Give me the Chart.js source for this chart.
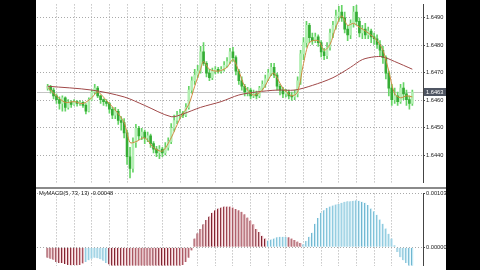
<!DOCTYPE html>
<html>
<head>
<meta charset="utf-8">
<script src="https://cdn.jsdelivr.net/npm/chart.js@4.4.1/dist/chart.umd.min.js"></script>
<style>
html, body { margin: 0; padding: 0; background: #000; width: 480px; height: 270px; overflow: hidden; }
#sheet { position: absolute; left: 36px; top: 0; width: 410px; height: 270px; background: #fff; }
#priceBox { position: absolute; left: 37px; top: 0; width: 409px; height: 187px; }
#sep { position: absolute; left: 36px; top: 187px; width: 410px; height: 2px; background: #8a8a8a; }
#macdBox { position: absolute; left: 37px; top: 189px; width: 409px; height: 81px; }
#macdLabel { position: absolute; left: 39px; top: 190px; font: 5.7px "Liberation Sans"; color: #222; white-space: nowrap; }
</style>
</head>
<body>
<div id="sheet"></div>
<div id="priceBox"><canvas id="priceChart" width="409" height="187"></canvas></div>
<div id="sep"></div>
<div id="macdBox"><canvas id="macdChart" width="409" height="81"></canvas></div>
<div id="macdLabel">MyMACD(5, 73, 13) -0.00048</div>
<script>
// candles, one per bar, left to right
var opens = [
    1.64644, 1.64651, 1.64637, 1.64616, 1.64602, 1.64588, 1.64609, 1.64574, 1.64592, 1.64585,
    1.64595, 1.64588, 1.64592, 1.64581, 1.64560, 1.64602, 1.64630, 1.64644, 1.64616, 1.64602,
    1.64595, 1.64588, 1.64567, 1.64546, 1.64560, 1.64526, 1.64519, 1.64481, 1.64394, 1.64352,
    1.64446, 1.64498, 1.64470, 1.64484, 1.64463, 1.64470, 1.64442, 1.64422, 1.64408, 1.64422,
    1.64408, 1.64428, 1.64449, 1.64498, 1.64526, 1.64546, 1.64553, 1.64546, 1.64574, 1.64637,
    1.64671, 1.64692, 1.64706, 1.64776, 1.64734, 1.64699, 1.64682, 1.64706, 1.64713, 1.64706,
    1.64713, 1.64727, 1.64741, 1.64776, 1.64755, 1.64706, 1.64671, 1.64651, 1.64630, 1.64637,
    1.64616, 1.64623, 1.64616, 1.64644, 1.64658, 1.64678, 1.64699, 1.64720, 1.64692, 1.64651,
    1.64637, 1.64623, 1.64630, 1.64616, 1.64612, 1.64623, 1.64671, 1.64769, 1.64810, 1.64873,
    1.64828, 1.64817, 1.64831, 1.64810, 1.64776, 1.64762, 1.64793, 1.64845, 1.64873, 1.64907,
    1.64921, 1.64900, 1.64859, 1.64838, 1.64880, 1.64921, 1.64887, 1.64845, 1.64859, 1.64838,
    1.64852, 1.64831, 1.64824, 1.64803, 1.64782, 1.64755, 1.64699, 1.64644, 1.64602, 1.64616,
    1.64595, 1.64644, 1.64623, 1.64602, 1.64588
];
var highs = [
    1.64658, 1.64654, 1.64644, 1.64623, 1.64612, 1.64616, 1.64612, 1.64602, 1.64599, 1.64602,
    1.64599, 1.64599, 1.64595, 1.64588, 1.64609, 1.64637, 1.64658, 1.64651, 1.64619, 1.64605,
    1.64602, 1.64592, 1.64574, 1.64574, 1.64567, 1.64540, 1.64533, 1.64491, 1.64428, 1.64463,
    1.64512, 1.64505, 1.64498, 1.64491, 1.64484, 1.64477, 1.64449, 1.64432, 1.64435, 1.64428,
    1.64446, 1.64463, 1.64515, 1.64546, 1.64560, 1.64567, 1.64560, 1.64588, 1.64651, 1.64685,
    1.64713, 1.64727, 1.64796, 1.64810, 1.64741, 1.64713, 1.64717, 1.64723, 1.64720, 1.64723,
    1.64741, 1.64755, 1.64789, 1.64793, 1.64762, 1.64713, 1.64685, 1.64658, 1.64647, 1.64644,
    1.64637, 1.64633, 1.64651, 1.64671, 1.64692, 1.64713, 1.64734, 1.64734, 1.64699, 1.64658,
    1.64647, 1.64640, 1.64637, 1.64630, 1.64637, 1.64685, 1.64782, 1.64828, 1.64887, 1.64880,
    1.64845, 1.64845, 1.64838, 1.64817, 1.64789, 1.64810, 1.64859, 1.64887, 1.64928, 1.64942,
    1.64946, 1.64921, 1.64873, 1.64893, 1.64942, 1.64946, 1.64900, 1.64873, 1.64880, 1.64866,
    1.64859, 1.64845, 1.64838, 1.64817, 1.64796, 1.64762, 1.64706, 1.64658, 1.64644, 1.64630,
    1.64658, 1.64664, 1.64637, 1.64616, 1.64637
];
var lows = [
    1.64637, 1.64626, 1.64605, 1.64588, 1.64567, 1.64560, 1.64560, 1.64567, 1.64574, 1.64581,
    1.64578, 1.64581, 1.64574, 1.64550, 1.64557, 1.64599, 1.64623, 1.64609, 1.64588, 1.64581,
    1.64578, 1.64553, 1.64533, 1.64533, 1.64512, 1.64491, 1.64463, 1.64366, 1.64317, 1.64338,
    1.64428, 1.64456, 1.64456, 1.64442, 1.64449, 1.64428, 1.64408, 1.64394, 1.64387, 1.64394,
    1.64401, 1.64418, 1.64442, 1.64487, 1.64515, 1.64533, 1.64536, 1.64540, 1.64567, 1.64626,
    1.64658, 1.64682, 1.64699, 1.64727, 1.64685, 1.64671, 1.64675, 1.64696, 1.64699, 1.64699,
    1.64706, 1.64720, 1.64734, 1.64741, 1.64692, 1.64658, 1.64637, 1.64616, 1.64616, 1.64605,
    1.64609, 1.64605, 1.64609, 1.64637, 1.64647, 1.64671, 1.64689, 1.64682, 1.64637, 1.64619,
    1.64609, 1.64612, 1.64605, 1.64599, 1.64602, 1.64612, 1.64658, 1.64748, 1.64793, 1.64810,
    1.64803, 1.64810, 1.64796, 1.64758, 1.64748, 1.64751, 1.64782, 1.64828, 1.64859, 1.64887,
    1.64887, 1.64845, 1.64817, 1.64824, 1.64866, 1.64873, 1.64831, 1.64824, 1.64824, 1.64824,
    1.64810, 1.64803, 1.64789, 1.64762, 1.64734, 1.64678, 1.64616, 1.64581, 1.64588, 1.64581,
    1.64588, 1.64602, 1.64581, 1.64567, 1.64581
];
var closes = [
    1.64651, 1.64637, 1.64616, 1.64602, 1.64588, 1.64609, 1.64574, 1.64592, 1.64585, 1.64595,
    1.64588, 1.64592, 1.64581, 1.64560, 1.64602, 1.64630, 1.64644, 1.64616, 1.64602, 1.64595,
    1.64588, 1.64567, 1.64546, 1.64560, 1.64526, 1.64519, 1.64481, 1.64394, 1.64352, 1.64446,
    1.64498, 1.64470, 1.64484, 1.64463, 1.64470, 1.64442, 1.64422, 1.64408, 1.64422, 1.64408,
    1.64428, 1.64449, 1.64498, 1.64526, 1.64546, 1.64553, 1.64546, 1.64574, 1.64637, 1.64671,
    1.64692, 1.64706, 1.64776, 1.64734, 1.64699, 1.64682, 1.64706, 1.64713, 1.64706, 1.64713,
    1.64727, 1.64741, 1.64776, 1.64755, 1.64706, 1.64671, 1.64651, 1.64630, 1.64637, 1.64616,
    1.64623, 1.64616, 1.64644, 1.64658, 1.64678, 1.64699, 1.64720, 1.64692, 1.64651, 1.64637,
    1.64623, 1.64630, 1.64616, 1.64612, 1.64623, 1.64671, 1.64769, 1.64810, 1.64873, 1.64828,
    1.64817, 1.64831, 1.64810, 1.64776, 1.64762, 1.64793, 1.64845, 1.64873, 1.64907, 1.64921,
    1.64900, 1.64859, 1.64838, 1.64880, 1.64921, 1.64887, 1.64845, 1.64859, 1.64838, 1.64852,
    1.64831, 1.64824, 1.64803, 1.64782, 1.64755, 1.64699, 1.64644, 1.64602, 1.64616, 1.64595,
    1.64644, 1.64623, 1.64602, 1.64588, 1.64630
];

// moving averages, read at a few bars
var fastMaBars = [0, 3, 6, 9, 12, 15, 17, 20, 23, 26, 28, 30, 33, 36, 39, 42, 45, 48, 50, 52, 53, 55, 58, 61, 63, 65, 67, 70, 73, 76, 77, 80, 83, 85, 87, 89, 92, 94, 96, 98, 100, 102, 104, 106, 109, 112, 114, 116, 118, 120, 122, 124];
var fastMaValues = [1.64647, 1.64616, 1.64592, 1.64595, 1.64588, 1.64609, 1.64630, 1.64599, 1.64564, 1.64519, 1.64446, 1.64449, 1.64463, 1.64428, 1.64415, 1.64463, 1.64533, 1.64585, 1.64651, 1.64713, 1.64741, 1.64713, 1.64706, 1.64720, 1.64748, 1.64706, 1.64651, 1.64619, 1.64637, 1.64692, 1.64699, 1.64644, 1.64616, 1.64630, 1.64734, 1.64810, 1.64817, 1.64782, 1.64803, 1.64866, 1.64907, 1.64873, 1.64880, 1.64866, 1.64845, 1.64817, 1.64782, 1.64706, 1.64623, 1.64609, 1.64616, 1.64612];
var slowMaBars = [0, 15, 26, 33, 42, 46, 52, 59, 65, 71, 78, 84, 90, 97, 103, 107, 111, 114, 118, 124];
var slowMaValues = [1.64651, 1.64637, 1.64612, 1.64581, 1.64540, 1.64550, 1.64574, 1.64595, 1.64619, 1.64630, 1.64637, 1.64637, 1.64654, 1.64682, 1.64720, 1.64748, 1.64758, 1.64758, 1.64741, 1.64713];

// MyMACD histogram, one value per bar
var macdHist = [
    -0.00020, -0.00022, -0.00024, -0.00028, -0.00030, -0.00030, -0.00032, -0.00034, -0.00035, -0.00034, -0.00035, -0.00034,
    -0.00031, -0.00028, -0.00025, -0.00022, -0.00020, -0.00021, -0.00023, -0.00026,
    -0.00030, -0.00033, -0.00036, -0.00038, -0.00040, -0.00042, -0.00045, -0.00052,
    -0.00060, -0.00065, -0.00066, -0.00064, -0.00063, -0.00062, -0.00062, -0.00063, -0.00064, -0.00066, -0.00066, -0.00064, -0.00060,
    -0.00055, -0.00050, -0.00045, -0.00040, -0.00036, -0.00034, -0.00028, -0.00020, -0.00006,
    0.00017, 0.00027, 0.00035, 0.00044, 0.00052, 0.00059, 0.00066, 0.00071, 0.00074, 0.00076, 0.00078, 0.00078, 0.00078,
    0.00076, 0.00073, 0.00071, 0.00068, 0.00063, 0.00057, 0.00051, 0.00044, 0.00035, 0.00029, 0.00022, 0.00017,
    0.00013, 0.00015, 0.00017, 0.00019, 0.00020, 0.00020, 0.00020, 0.00019, 0.00017, 0.00014, 0.00011, 0.00008,
    0.00006, 0.00012, 0.00020, 0.00028, 0.00045, 0.00056, 0.00066, 0.00071, 0.00075, 0.00078, 0.00080, 0.00082, 0.00083,
    0.00085, 0.00087, 0.00088, 0.00088, 0.00089, 0.00090, 0.00089, 0.00087, 0.00085, 0.00081, 0.00074, 0.00069, 0.00062,
    0.00053, 0.00045, 0.00036, 0.00026, 0.00017, 0.00004, -0.00009, -0.00019, -0.00025, -0.00030, -0.00040, -0.00048
];
// bars drawn in the light blue colour (first and last bar of each run)
var macdBlueRuns = [[13, 20], [75, 81], [87, 124]];

var priceTicks = [1.6440, 1.6450, 1.6460, 1.6470, 1.6480, 1.6490];
var macdTicks = [0, 0.00103];

Chart.defaults.font.family = "'Liberation Sans', Arial, sans-serif";
Chart.defaults.font.size = 5.7;
Chart.defaults.color = "#222";

var lastBar = opens.length - 1;

function isBlue(i) {
    return macdBlueRuns.some(r => i >= r[0] && i <= r[1]);
}

function barAxis() {
    return {
        type: "linear",
        min: -0.5,
        max: lastBar + 0.5,
        ticks: { stepSize: 6, display: false, includeBounds: false },
        grid: {
            color: c => (c.tick && c.tick.value > 0) ? "#a9a9a9" : "rgba(0,0,0,0)",
            drawTicks: false
        },
        border: { display: false, dash: [1, 2] },
        afterFit: s => { s.height = 0; }
    };
}

function valueAxis(min, max, ticks, digits) {
    return {
        position: "right",
        min: min,
        max: max,
        afterBuildTicks: s => { s.ticks = ticks.map(v => ({ value: v })); },
        afterFit: s => { s.width = 23; },
        ticks: { callback: v => v.toFixed(digits), padding: 1, color: "#222" },
        grid: { color: "#a9a9a9", tickLength: 2, tickColor: "#444" },
        border: { display: true, color: "#444", dash: [1, 2] }
    };
}

// current price line and its box on the price scale
var lastPriceLine = {
    id: "lastPriceLine",
    beforeDatasetsDraw(chart) {
        var ctx = chart.ctx, a = chart.chartArea;
        var py = Math.round(chart.scales.y.getPixelForValue(closes[lastBar])) + 0.5;
        ctx.save();
        ctx.strokeStyle = "#c4c4c4";
        ctx.lineWidth = 1;
        ctx.beginPath();
        ctx.moveTo(a.left, py);
        ctx.lineTo(a.right, py);
        ctx.stroke();
        ctx.restore();
    },
    afterDraw(chart) {
        var ctx = chart.ctx, a = chart.chartArea;
        var py = chart.scales.y.getPixelForValue(closes[lastBar]);
        ctx.save();
        ctx.fillStyle = "#4f5562";
        ctx.fillRect(a.right + 1, py - 4, 22, 8);
        ctx.fillStyle = "#fff";
        ctx.font = "5.7px 'Liberation Sans'";
        ctx.textBaseline = "middle";
        ctx.fillText(closes[lastBar].toFixed(4), a.right + 3, py + 0.5);
        ctx.restore();
    }
};

new Chart(document.getElementById("priceChart"), {
    type: "bar",
    data: {
        datasets: [
            {
                type: "line",
                data: fastMaBars.map((b, i) => ({ x: b, y: fastMaValues[i] })),
                borderColor: "#d08a40",
                borderWidth: 1,
                pointRadius: 0,
                tension: 0.3,
                order: 0
            },
            {
                type: "line",
                data: slowMaBars.map((b, i) => ({ x: b, y: slowMaValues[i] })),
                borderColor: "#a04848",
                borderWidth: 1,
                pointRadius: 0,
                tension: 0.3,
                order: 1
            },
            {
                data: opens.map((o, i) => ({ x: i, y: [o, closes[i]] })),
                backgroundColor: opens.map((o, i) => closes[i] >= o ? "#b2efb2" : "#35ad35"),
                barThickness: 2,
                grouped: false,
                order: 2
            },
            {
                data: lows.map((l, i) => ({ x: i, y: [l, highs[i]] })),
                backgroundColor: "#66d466",
                barThickness: 1,
                grouped: false,
                order: 3
            }
        ]
    },
    options: {
        responsive: false,
        animation: false,
        layout: { padding: 0 },
        plugins: { legend: { display: false }, tooltip: { enabled: false } },
        scales: {
            x: barAxis(),
            y: valueAxis(1.64300, 1.64949, priceTicks, 4)
        }
    },
    plugins: [lastPriceLine]
});

new Chart(document.getElementById("macdChart"), {
    type: "bar",
    data: {
        datasets: [
            {
                data: macdHist.map((v, i) => ({ x: i, y: isBlue(i) ? null : v })),
                backgroundColor: "#e8b4ba",
                borderColor: "#7c1e2c",
                borderWidth: { left: 1, right: 0, top: 0, bottom: 0 },
                borderSkipped: false,
                barThickness: 2,
                grouped: false
            },
            {
                data: macdHist.map((v, i) => ({ x: i, y: isBlue(i) ? v : null })),
                backgroundColor: "#c6e9f4",
                borderColor: "#6fb6d0",
                borderWidth: { left: 1, right: 0, top: 0, bottom: 0 },
                borderSkipped: false,
                barThickness: 2,
                grouped: false
            }
        ]
    },
    options: {
        responsive: false,
        animation: false,
        layout: { padding: { top: 2 } },
        plugins: { legend: { display: false }, tooltip: { enabled: false } },
        scales: {
            x: barAxis(),
            y: valueAxis(-0.00035, 0.00103, macdTicks, 5)
        }
    }
});
</script>
</body>
</html>
